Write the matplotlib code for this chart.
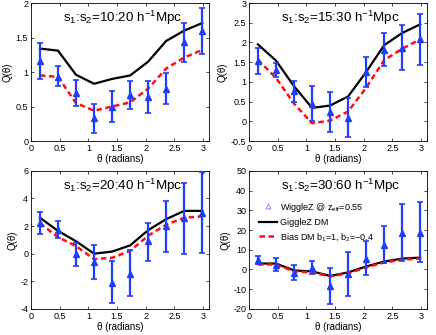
import numpy as np
import matplotlib
matplotlib.use("Agg")
import matplotlib.pyplot as plt

plt.rcParams['font.family'] = 'Liberation Sans'
plt.rcParams['mathtext.fontset'] = 'custom'
plt.rcParams['mathtext.rm'] = 'Liberation Sans'
plt.rcParams['mathtext.it'] = 'Liberation Sans:italic'

theta = np.array([0.157, 0.471, 0.785, 1.100, 1.414, 1.728, 2.042, 2.356, 2.670, 2.985])

titles = ["10:20", "15:30", "20:40", "30:60"]

# GiggleZ DM (black solid)
dm = [
    [1.34, 1.31, 0.96, 0.83, 0.90, 0.95, 1.15, 1.45, 1.60, 1.71],
    [1.95, 1.54, 0.89, 0.34, 0.40, 0.63, 1.25, 1.93, 2.24, 2.46],
    [2.6, 1.65, 0.9, 0.0, 0.15, 0.6, 1.7, 2.5, 3.1, 3.1],
    [3.0, 3.0, -0.5, -1.0, -3.3, -1.5, 1.5, 4.0, 5.5, 6.0],
]
# Bias DM (red dashed)
bias = [
    [0.95, 0.93, 0.55, 0.44, 0.50, 0.56, 0.76, 1.05, 1.21, 1.32],
    [1.56, 1.10, 0.45, -0.05, 0.02, 0.25, 0.85, 1.55, 1.84, 2.08],
    [2.2, 1.2, 0.55, -0.4, -0.3, 0.2, 1.3, 2.1, 2.6, 2.7],
    [2.5, 2.5, -1.0, -1.5, -3.5, -2.0, 1.0, 3.5, 5.0, 5.5],
]
# WiggleZ measurements
wz = [
    [1.16, 0.93, 0.70, 0.33, 0.50, 0.66, 0.64, 0.76, 1.43, 1.59],
    [1.52, 1.29, 0.76, 0.45, 0.24, 0.08, 1.25, 1.82, 1.87, 2.08],
    [2.2, 1.75, -0.05, -0.6, -2.1, -1.45, 0.9, 2.0, 2.55, 2.95],
    [5.0, 2.5, -2.0, 0.8, -8.5, -2.2, 5.5, 12.5, 18.5, 18.5],
]
wz_lo = [
    [0.90, 0.80, 0.51, 0.12, 0.27, 0.46, 0.41, 0.54, 1.14, 1.26],
    [1.20, 1.13, 0.50, 0.01, -0.26, -0.41, 0.86, 1.40, 1.29, 1.43],
    [1.4, 1.1, -0.9, -1.8, -3.6, -3.1, -0.5, 0.15, 0.0, 0.05],
    [3.0, -1.0, -5.5, -2.5, -17.5, -13.5, -3.0, 3.5, 4.5, 4.0],
]
wz_hi = [
    [1.42, 1.09, 0.89, 0.54, 0.72, 0.87, 0.87, 0.99, 1.71, 1.93],
    [1.85, 1.47, 1.02, 0.89, 0.74, 0.58, 1.63, 2.24, 2.45, 2.71],
    [3.0, 2.35, 0.8, 0.6, -0.5, 0.25, 2.25, 3.85, 5.15, 5.95],
    [7.0, 6.0, 2.0, 4.5, 0.5, 9.0, 14.5, 22.0, 33.0, 34.0],
]

ylims = [(0, 2), (-0.5, 3), (-4, 6), (-20, 50)]
yticks = [np.arange(0, 2.01, 0.5), np.arange(-0.5, 3.01, 0.5),
          np.arange(-4, 6.1, 2), np.arange(-20, 51, 10)]

fig = plt.figure(figsize=(4.36, 3.35), dpi=100)
positions = [
    [0.071, 0.579, 0.408, 0.412],
    [0.571, 0.579, 0.408, 0.412],
    [0.071, 0.078, 0.408, 0.412],
    [0.571, 0.078, 0.408, 0.412],
]
blue = '#1f3cff'

for i in range(4):
    ax = fig.add_axes(positions[i])
    ax.plot(theta, dm[i], color='k', lw=1.6, label='GiggleZ DM', zorder=2)
    ax.plot(theta, bias[i], color='#ff1010', lw=1.8, ls=(0, (2.2, 1.4)),
            label=r'Bias DM b$_1$=1, b$_2$=$-$0.4', zorder=3)
    y = np.array(wz[i])
    err = [y - np.array(wz_lo[i]), np.array(wz_hi[i]) - y]
    ax.errorbar(theta, y, yerr=err, fmt='^', color=blue, ms=4.5, lw=1.6,
                capsize=2.2, capthick=1.2, zorder=4)
    ax.plot([], [], '^', mfc='none', mec='#6a7fff', ms=3.5, mew=0.6,
            label=r'WiggleZ @ z$_{\mathregular{eff}}$=0.55')
    ax.set_xlim(0, 3.1)
    ax.set_ylim(*ylims[i])
    ax.set_xticks([0, 0.5, 1, 1.5, 2, 2.5, 3])
    ax.set_xticklabels(['0', '0.5', '1', '1.5', '2', '2.5', '3'])
    ax.set_yticks(yticks[i])
    ax.set_yticklabels(['%g' % v for v in yticks[i]])
    ax.tick_params(direction='in', top=True, right=True, labelsize=6.5,
                   length=2.5, width=0.5, pad=2)
    for s in ax.spines.values():
        s.set_linewidth(0.6)
    ax.set_xlabel('θ (radians)', fontsize=7, labelpad=1)
    ax.set_ylabel('Q(θ)', fontsize=7, labelpad=2)
    ax.text(0.515, 0.96, r's$_1$:s$_2$=' + titles[i] + r' h$^{-1}$Mpc',
            transform=ax.transAxes, ha='center', va='top', fontsize=9.6)
    if i == 3:
        h, l = ax.get_legend_handles_labels()
        ax.legend([h[2], h[0], h[1]], [l[2], l[0], l[1]], loc='upper left',
                  bbox_to_anchor=(0.02, 0.83), frameon=False, fontsize=6.5,
                  handlelength=2.0, handletextpad=0.3, labelspacing=0.45,
                  borderpad=0.2)

fig.savefig('out.png', dpi=100)
